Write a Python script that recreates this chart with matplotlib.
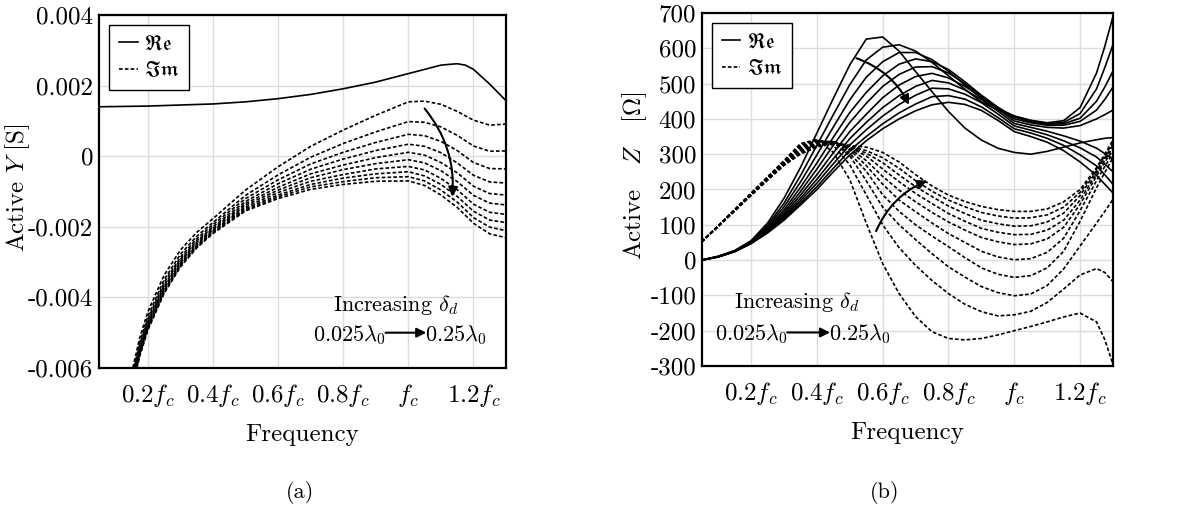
import numpy as np
import matplotlib
matplotlib.use('Agg')
import matplotlib.pyplot as plt
from matplotlib.lines import Line2D

plt.rcParams['font.family'] = 'cmr10'
plt.rcParams['mathtext.fontset'] = 'cm'
plt.rcParams['axes.unicode_minus'] = False
plt.rcParams['axes.formatter.use_mathtext'] = True

# ---------------- data: panel (a), active admittance (mS) ----------------
freq_a_re = [0.05, 0.2, 0.4, 0.5, 0.6, 0.7, 0.8, 0.9, 1.0, 1.05, 1.1, 1.15, 1.175, 1.2, 1.25, 1.3]
y_re = [1.40, 1.42, 1.48, 1.54, 1.63, 1.75, 1.91, 2.10, 2.34, 2.46, 2.58, 2.62, 2.58, 2.46, 2.04, 1.57]

freq_a_im = [0.15, 0.175, 0.2, 0.25, 0.3, 0.35, 0.4, 0.5, 0.6, 0.7, 0.8, 0.9, 1.0, 1.05, 1.1, 1.15, 1.2, 1.25, 1.3]
y_im = [
    [-6.15, -5.15, -4.41, -3.37, -2.66, -2.16, -1.77, -0.96, -0.30, 0.28, 0.74, 1.16, 1.54, 1.56, 1.47, 1.27, 1.02, 0.88, 0.91],
    [-6.28, -5.28, -4.54, -3.50, -2.78, -2.27, -1.88, -1.11, -0.53, -0.03, 0.36, 0.69, 0.98, 0.96, 0.83, 0.59, 0.29, 0.14, 0.15],
    [-6.36, -5.36, -4.62, -3.58, -2.86, -2.34, -1.94, -1.20, -0.67, -0.22, 0.11, 0.39, 0.62, 0.58, 0.42, 0.16, -0.18, -0.35, -0.36],
    [-6.42, -5.43, -4.69, -3.65, -2.92, -2.40, -2.00, -1.28, -0.78, -0.37, -0.08, 0.16, 0.34, 0.28, 0.10, -0.19, -0.54, -0.73, -0.76],
    [-6.48, -5.48, -4.74, -3.70, -2.97, -2.44, -2.04, -1.34, -0.88, -0.50, -0.25, -0.04, 0.11, 0.03, -0.18, -0.47, -0.85, -1.06, -1.10],
    [-6.52, -5.53, -4.79, -3.75, -3.01, -2.48, -2.08, -1.39, -0.96, -0.61, -0.38, -0.21, -0.10, -0.19, -0.41, -0.72, -1.11, -1.33, -1.38],
    [-6.57, -5.57, -4.83, -3.79, -3.05, -2.52, -2.11, -1.44, -1.03, -0.71, -0.52, -0.36, -0.29, -0.39, -0.63, -0.95, -1.36, -1.59, -1.65],
    [-6.60, -5.61, -4.87, -3.83, -3.09, -2.55, -2.14, -1.48, -1.10, -0.80, -0.62, -0.50, -0.44, -0.56, -0.80, -1.14, -1.56, -1.81, -1.88],
    [-6.63, -5.64, -4.90, -3.86, -3.11, -2.58, -2.17, -1.52, -1.15, -0.87, -0.72, -0.61, -0.58, -0.70, -0.96, -1.30, -1.74, -2.01, -2.11],
    [-6.66, -5.67, -4.93, -3.89, -3.14, -2.60, -2.19, -1.55, -1.20, -0.94, -0.80, -0.71, -0.70, -0.83, -1.10, -1.45, -1.90, -2.20, -2.31],
]

# ---------------- data: panel (b), active impedance (ohm) ----------------
freq_b = [0.05, 0.1, 0.15, 0.2, 0.25, 0.3, 0.35, 0.4, 0.45, 0.5, 0.55, 0.6, 0.65, 0.7,
          0.75, 0.8, 0.85, 0.9, 0.95, 1.0, 1.05, 1.1, 1.15, 1.2, 1.25, 1.275, 1.3]
z_re = [
    [0, 11, 27, 55, 105, 175, 262, 360, 458, 553, 626, 632, 592, 534, 477, 421, 374, 340, 317, 305, 300, 308, 320, 332, 341, 345, 347],
    [0, 10, 26, 53, 99, 161, 239, 325, 412, 497, 567, 603, 610, 592, 560, 522, 484, 448, 425, 408, 396, 389, 395, 432, 530, 605, 690],
    [0, 10, 26, 52, 94, 151, 221, 298, 377, 454, 518, 562, 588, 588, 568, 535, 496, 458, 430, 408, 395, 387, 390, 415, 485, 545, 610],
    [0, 10, 25, 51, 90, 142, 206, 275, 348, 418, 475, 522, 555, 570, 562, 540, 505, 467, 433, 405, 392, 385, 386, 402, 450, 490, 535],
    [0, 10, 25, 50, 87, 135, 194, 258, 325, 390, 444, 492, 526, 547, 548, 530, 500, 466, 432, 400, 389, 382, 382, 393, 425, 455, 490],
    [0, 10, 25, 49, 84, 129, 184, 242, 304, 364, 413, 460, 496, 520, 529, 516, 492, 462, 428, 394, 383, 376, 374, 381, 400, 412, 425],
    [0, 9, 25, 48, 82, 124, 175, 229, 287, 344, 390, 432, 466, 492, 509, 502, 482, 455, 422, 387, 376, 365, 352, 337, 317, 302, 285],
    [0, 9, 24, 48, 80, 120, 168, 218, 273, 326, 369, 408, 441, 467, 487, 485, 470, 446, 414, 380, 368, 355, 338, 318, 292, 272, 250],
    [0, 9, 24, 47, 78, 116, 161, 208, 260, 311, 350, 386, 417, 442, 463, 466, 456, 434, 404, 372, 360, 345, 325, 298, 267, 242, 215],
    [0, 9, 24, 47, 77, 113, 156, 200, 250, 298, 338, 372, 400, 423, 440, 447, 441, 424, 396, 364, 350, 334, 310, 278, 240, 215, 190],
]
z_im = [
    [52, 97, 143, 190, 236, 282, 330, 342, 305, 228, 105, -10, -95, -160, -203, -222, -226, -222, -212, -200, -188, -175, -161, -150, -175, -225, -295],
    [52, 97, 143, 189, 235, 280, 326, 341, 325, 270, 185, 100, 35, -15, -58, -95, -125, -146, -158, -155, -145, -120, -82, -42, -24, -35, -61],
    [52, 97, 142, 188, 234, 278, 322, 339, 333, 295, 225, 150, 100, 58, 18, -19, -48, -75, -92, -101, -96, -72, -25, 40, 105, 138, 172],
    [52, 97, 142, 187, 233, 277, 318, 337, 335, 302, 252, 185, 138, 100, 68, 38, 7, -22, -40, -49, -44, -22, 25, 110, 205, 248, 290],
    [52, 97, 141, 186, 232, 276, 315, 334, 336, 312, 268, 215, 170, 137, 105, 75, 50, 25, 9, 1, 4, 22, 62, 140, 225, 265, 302],
    [52, 96, 141, 186, 231, 274, 312, 331, 336, 316, 282, 237, 198, 165, 135, 108, 85, 64, 52, 44, 46, 60, 93, 158, 238, 277, 312],
    [52, 96, 140, 185, 230, 273, 309, 328, 335, 319, 295, 258, 222, 189, 160, 132, 110, 90, 79, 72, 73, 85, 113, 170, 246, 284, 320],
    [52, 96, 140, 184, 229, 271, 306, 325, 334, 321, 303, 276, 241, 208, 180, 153, 132, 113, 103, 96, 97, 108, 133, 183, 253, 290, 326],
    [52, 95, 139, 184, 228, 270, 303, 323, 333, 323, 310, 290, 260, 225, 195, 170, 151, 135, 125, 119, 120, 128, 150, 192, 258, 296, 333],
    [52, 95, 139, 183, 226, 268, 300, 320, 332, 325, 320, 305, 278, 242, 210, 184, 166, 152, 143, 138, 138, 145, 165, 200, 262, 300, 340],
]

xticks = [0.2, 0.4, 0.6, 0.8, 1.0, 1.2]
xticklabels = [r'$0.2f_c$', r'$0.4f_c$', r'$0.6f_c$', r'$0.8f_c$', r'$f_c$', r'$1.2f_c$']
yticks_a = [-0.006, -0.004, -0.002, 0, 0.002, 0.004]
yticklabels_a = ['-0.006', '-0.004', '-0.002', '0', '0.002', '0.004']
yticks_b = [-300, -200, -100, 0, 100, 200, 300, 400, 500, 600, 700]
yticklabels_b = ['-300', '-200', '-100', '0', '100', '200', '300', '400', '500', '600', '700']

dash = (0, (2.2, 1.3))
lw = 1.2

fig = plt.figure(figsize=(11.91, 5.32), dpi=100)
ax1 = fig.add_axes([0.0831, 0.3083, 0.3418, 0.6635])
ax2 = fig.add_axes([0.5892, 0.312, 0.3453, 0.6636])


def style(ax, yticks, yticklabels):
    ax.set_xlim(0.05, 1.3)
    ax.set_xticks(xticks)
    ax.set_xticklabels(xticklabels)
    ax.set_yticks(yticks)
    ax.set_yticklabels(yticklabels)
    ax.set_ylim(yticks[0], yticks[-1])
    ax.grid(True, color='#dcdcdc', lw=1.0)
    ax.set_axisbelow(True)
    ax.tick_params(length=0, labelsize=18, pad=4)
    ax.tick_params(axis='x', pad=10)
    for sp in ax.spines.values():
        sp.set_linewidth(1.6)
    ax.set_xlabel('Frequency', fontsize=18, labelpad=11)
    handles = [Line2D([], [], color='k', lw=lw), Line2D([], [], color='k', lw=lw, ls=dash)]
    leg = ax.legend(handles, [r'$\mathfrak{Re}$', r'$\mathfrak{Im}$'], loc='upper left',
                    fontsize=15, fancybox=False, framealpha=1, edgecolor='k',
                    handlelength=0.9, handletextpad=0.3, borderpad=0.45, labelspacing=0.35,
                    borderaxespad=0.5)
    leg.get_frame().set_linewidth(1.0)


# panel (a)
ax1.plot(freq_a_re, np.array(y_re) * 1e-3, color='k', lw=lw)
for yy in y_im:
    ax1.plot(freq_a_im, np.array(yy) * 1e-3, color='k', lw=lw, ls=dash)
style(ax1, yticks_a, yticklabels_a)
ax1.set_ylabel(r'Active $Y$ [S]', fontsize=18)
ax1.yaxis.label.set_va('center')
ax1.yaxis.set_label_coords(-0.2, 0.51)
ax1.annotate('', xy=(1.135, -0.00115), xytext=(1.05, 0.00135),
             arrowprops=dict(arrowstyle='-|>', color='k', lw=1.5, mutation_scale=14,
                             connectionstyle='arc3,rad=-0.2', shrinkA=0, shrinkB=0))
ax1.text(0.96, -0.00422, r'Increasing $\delta_d$', fontsize=16, ha='center', va='center')
ax1.text(0.82, -0.00506, r'$0.025\lambda_0$', fontsize=16, ha='center', va='center')
ax1.text(1.145, -0.00506, r'$0.25\lambda_0$', fontsize=16, ha='center', va='center')
ax1.annotate('', xy=(1.055, -0.00500), xytext=(0.93, -0.00500),
             arrowprops=dict(arrowstyle='-|>', color='k', lw=1.5, mutation_scale=14,
                             shrinkA=0, shrinkB=0))

# panel (b)
for zz in z_re:
    ax2.plot(freq_b, zz, color='k', lw=lw)
for zz in z_im:
    ax2.plot(freq_b, zz, color='k', lw=lw, ls=dash)
style(ax2, yticks_b, yticklabels_b)
ax2.set_ylabel(r'Active   $Z$   [$\Omega$]', fontsize=18)
ax2.yaxis.label.set_va('center')
ax2.yaxis.set_label_coords(-0.162, 0.54)
ax2.annotate('', xy=(0.68, 440), xytext=(0.52, 572),
             arrowprops=dict(arrowstyle='-|>', color='k', lw=1.5, mutation_scale=14,
                             connectionstyle='arc3,rad=-0.2', shrinkA=0, shrinkB=0))
ax2.annotate('', xy=(0.735, 225), xytext=(0.58, 82),
             arrowprops=dict(arrowstyle='-|>', color='k', lw=1.5, mutation_scale=14,
                             connectionstyle='arc3,rad=-0.2', shrinkA=0, shrinkB=0))
ax2.text(0.34, -119, r'Increasing $\delta_d$', fontsize=16, ha='center', va='center')
ax2.text(0.20, -210, r'$0.025\lambda_0$', fontsize=16, ha='center', va='center')
ax2.text(0.53, -210, r'$0.25\lambda_0$', fontsize=16, ha='center', va='center')
ax2.annotate('', xy=(0.44, -205), xytext=(0.31, -205),
             arrowprops=dict(arrowstyle='-|>', color='k', lw=1.5, mutation_scale=14,
                             shrinkA=0, shrinkB=0))

fig.text(300 / 1191, 1 - 492 / 532, '(a)', fontsize=16, ha='center', va='center')
fig.text(885 / 1191, 1 - 492 / 532, '(b)', fontsize=16, ha='center', va='center')

fig.savefig('out.png', dpi=100)
